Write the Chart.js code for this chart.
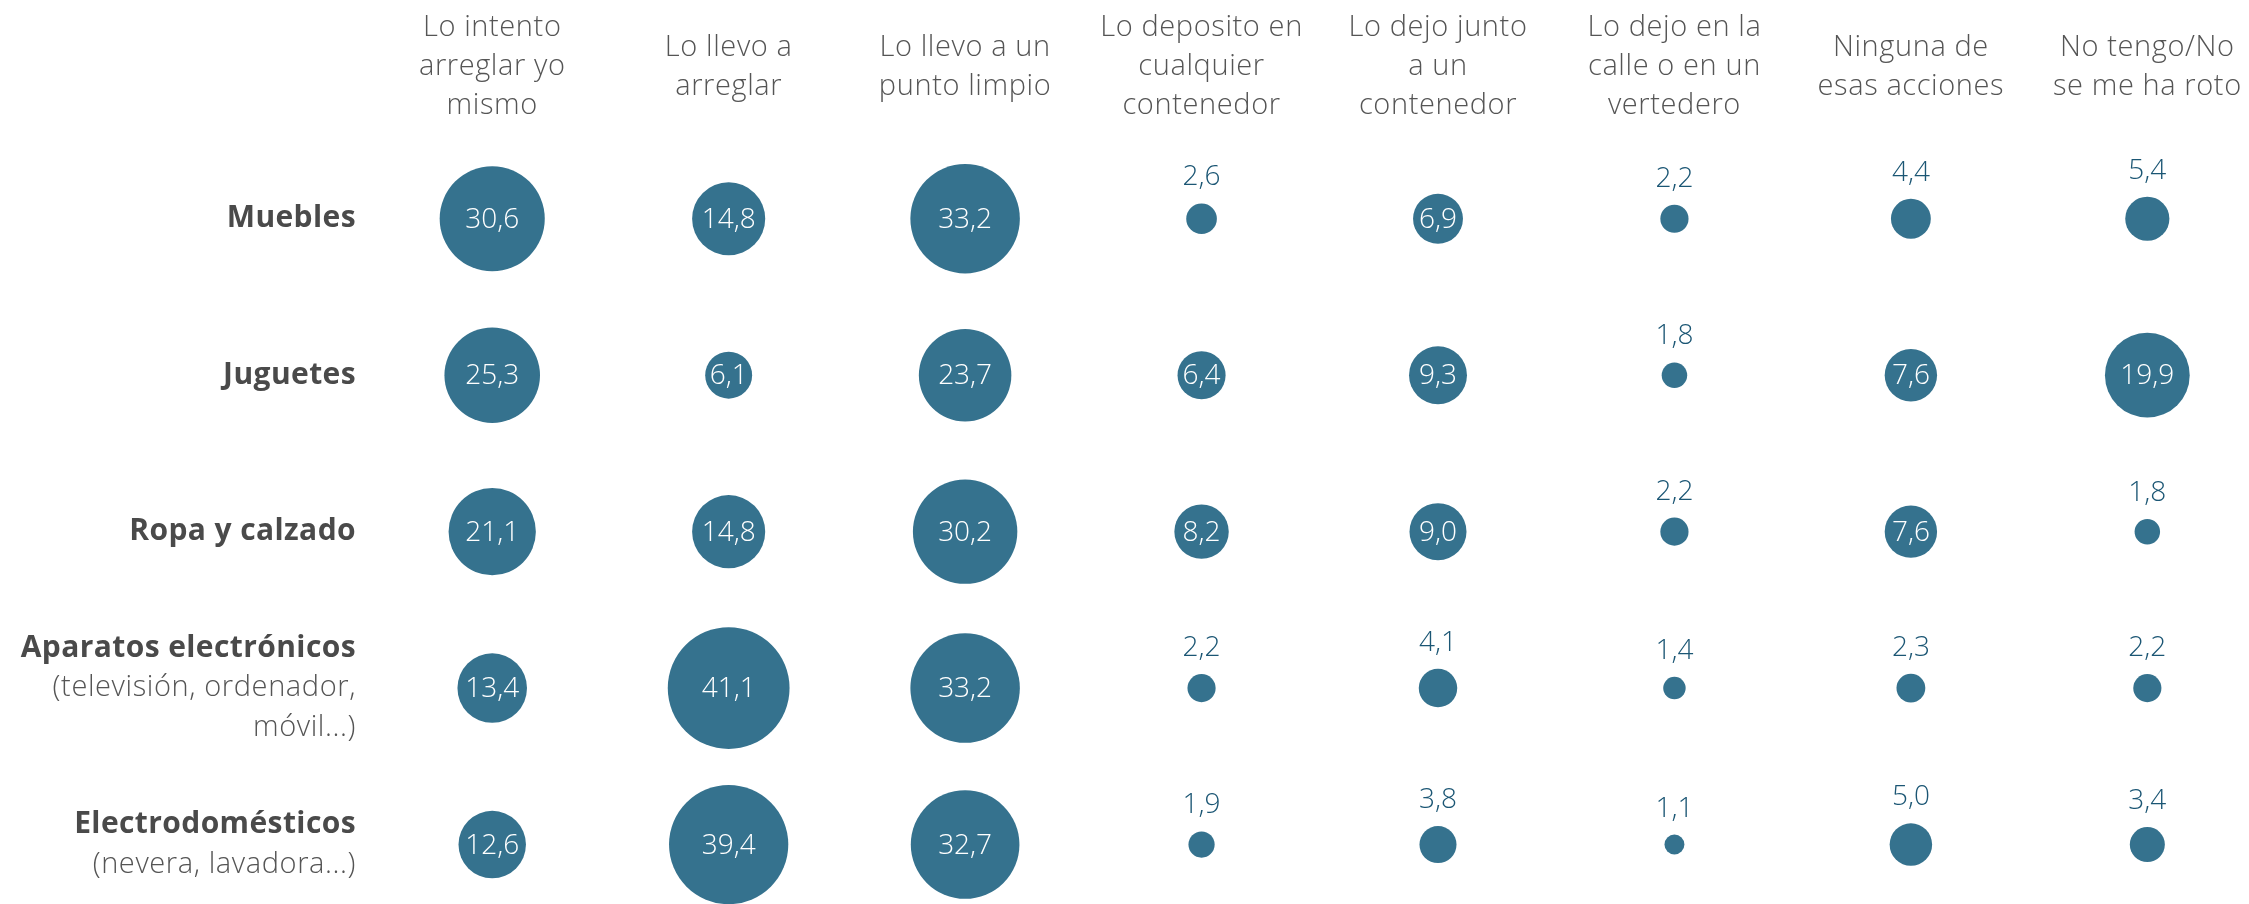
<!DOCTYPE html>
<html>
<head>
<meta charset="utf-8">
<script src="https://cdn.jsdelivr.net/npm/chart.js@4.4.1/dist/chart.umd.min.js"></script>
<style>
    html, body { margin: 0; padding: 0; background: #ffffff; }
    #wrap { width: 2249px; height: 904px; position: relative; }
</style>
</head>
<body>
<div id="wrap"><canvas id="bubbleChart"></canvas></div>
<script>
// Column headers (actions)
const columns = [
    ['Lo intento', 'arreglar yo', 'mismo'],
    ['Lo llevo a', 'arreglar'],
    ['Lo llevo a un', 'punto limpio'],
    ['Lo deposito en', 'cualquier', 'contenedor'],
    ['Lo dejo junto', 'a un', 'contenedor'],
    ['Lo dejo en la', 'calle o en un', 'vertedero'],
    ['Ninguna de', 'esas acciones'],
    ['No tengo/No', 'se me ha roto']
];

// Row labels (objects)
const rowTitles = ['Muebles', 'Juguetes', 'Ropa y calzado', 'Aparatos electrónicos', 'Electrodomésticos'];
const rowNotes = [[], [], [], ['(televisión, ordenador,', 'móvil...)'], ['(nevera, lavadora...)']];

// Values (%) per row
const muebles = [30.6, 14.8, 33.2, 2.6, 6.9, 2.2, 4.4, 5.4];
const juguetes = [25.3, 6.1, 23.7, 6.4, 9.3, 1.8, 7.6, 19.9];
const ropa = [21.1, 14.8, 30.2, 8.2, 9.0, 2.2, 7.6, 1.8];
const aparatos = [13.4, 41.1, 33.2, 2.2, 4.1, 1.4, 2.3, 2.2];
const electro = [12.6, 39.4, 32.7, 1.9, 3.8, 1.1, 5.0, 3.4];
const values = [muebles, juguetes, ropa, aparatos, electro];

const BUBBLE_COLOR = '#35728e';
const OUT_LABEL_COLOR = '#1b5674';
const R_SCALE = 9.5;        // px per sqrt(%) -> area proportional
const INSIDE_MIN = 6;       // values below this get label above the bubble

const fmt = v => v.toFixed(1).replace('.', ',');

const points = [];
values.forEach((row, ri) => {
    row.forEach((v, ci) => {
        points.push({ x: ci, y: ri, r: R_SCALE * Math.sqrt(v), v: v });
    });
});

// Draw headers, row labels and value labels
const labelsPlugin = {
    id: 'labelsPlugin',
    afterDatasetsDraw(chart) {
        const ctx = chart.ctx;
        const xs = chart.scales.x;
        const ys = chart.scales.y;
        ctx.save();

        // column headers
        ctx.fillStyle = '#555555';
        ctx.font = '300 29px "Open Sans", "Noto Sans", sans-serif';
        ctx.letterSpacing = '0.6px';
        ctx.textAlign = 'center';
        ctx.textBaseline = 'middle';
        const headerMid = 67, headerLine = 39;
        columns.forEach((lines, ci) => {
            const x = xs.getPixelForValue(ci);
            const y0 = headerMid - (lines.length - 1) * headerLine / 2;
            lines.forEach((t, li) => ctx.fillText(t, x, y0 + li * headerLine));
        });

        // row labels
        ctx.textAlign = 'right';
        const labelX = 356, rowLine = 40;
        rowTitles.forEach((title, ri) => {
            const notes = rowNotes[ri];
            const n = 1 + notes.length;
            const yc = ys.getPixelForValue(ri);
            const y0 = yc - (n - 1) * rowLine / 2;
            ctx.fillStyle = '#4a4a4a';
            ctx.font = 'bold 30px "Open Sans", "Noto Sans", sans-serif';
            ctx.letterSpacing = '0.4px';
            ctx.fillText(title, labelX, y0);
            ctx.fillStyle = '#555555';
            ctx.font = '300 29px "Open Sans", "Noto Sans", sans-serif';
            ctx.letterSpacing = '0.6px';
            notes.forEach((t, li) => ctx.fillText(t, labelX, y0 + (li + 1) * rowLine));
        });

        // value labels
        ctx.textAlign = 'center';
        ctx.letterSpacing = '0px';
        ctx.font = '300 28px "Open Sans", "Noto Sans", sans-serif';
        const meta = chart.getDatasetMeta(0);
        meta.data.forEach((el, i) => {
            const p = points[i];
            if (p.v >= INSIDE_MIN) {
                ctx.fillStyle = '#ffffff';
                ctx.fillText(fmt(p.v), el.x, el.y + 1);
            } else {
                ctx.fillStyle = OUT_LABEL_COLOR;
                ctx.fillText(fmt(p.v), el.x, el.y - p.r - 26);
            }
        });
        ctx.restore();
    }
};

new Chart(document.getElementById('bubbleChart').getContext('2d'), {
    type: 'bubble',
    data: {
        datasets: [{
            data: points,
            backgroundColor: BUBBLE_COLOR,
            borderWidth: 0,
            hoverRadius: 0,
            clip: false
        }]
    },
    options: {
        responsive: true,
        maintainAspectRatio: false,
        animation: false,
        events: [],
        layout: { autoPadding: false, padding: { left: 374, right: 0, top: 31, bottom: 0 } },
        scales: {
            x: { type: 'linear', min: -0.5, max: 7.43, display: false },
            y: { type: 'linear', min: -1.2, max: 4.38, reverse: true, display: false }
        },
        plugins: {
            legend: { display: false },
            tooltip: { enabled: false }
        }
    },
    plugins: [labelsPlugin]
});
</script>
</body>
</html>
